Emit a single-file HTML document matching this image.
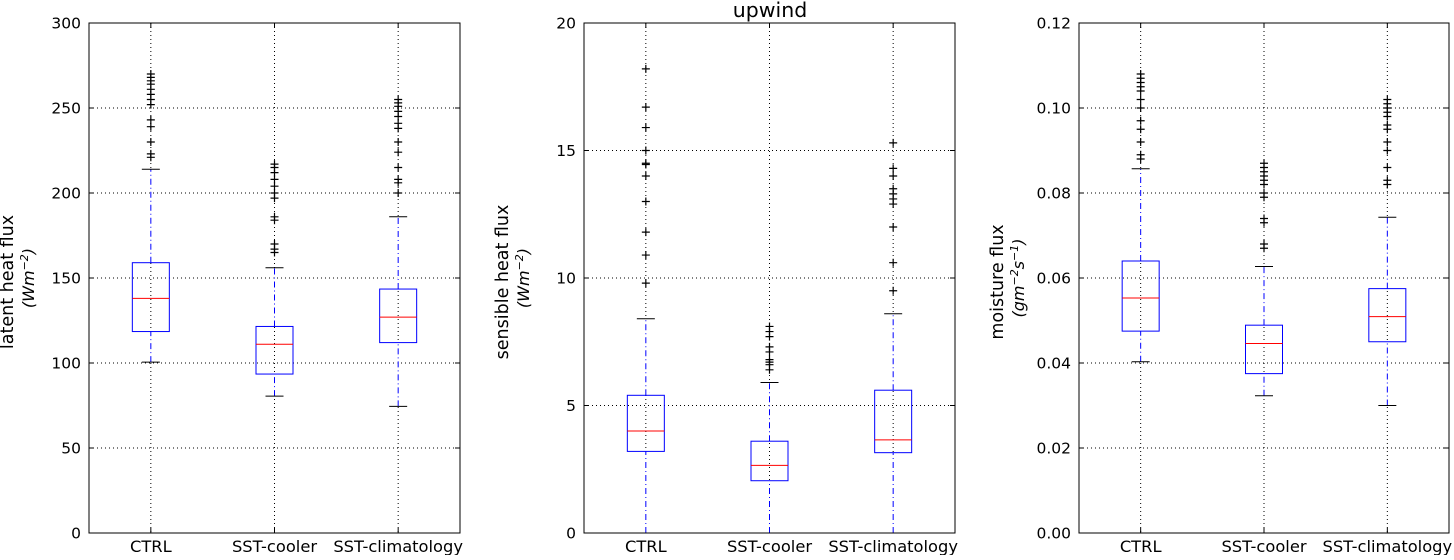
<!DOCTYPE html>
<html><head><meta charset="utf-8"><style>
body{margin:0;background:#fff}
svg text{font-family:"DejaVu Sans","Liberation Sans",sans-serif}
</style></head><body>
<svg id="fig" width="1454" height="555" xmlns="http://www.w3.org/2000/svg">
<rect width="1454" height="555" fill="#fff"/>
<text x="770" y="17" font-size="20.5" text-anchor="middle">upwind</text>
</svg>
<script>
const categories=["CTRL","SST-cooler","SST-climatology"];
const latentStats=[[100.5,118.5,138,159,214],[80.5,93.5,111,121.5,156],[74.5,112,127,143.5,186]];
const latentFliers=[[270,268,266,264,261,258,255,252,243,239,230,223,221],[217,215,212,208,204,200,197,186,184,170,167,165],[255,253,251,248,245,241,238,230,224,215,208,206,200]];
const latentTicks=[0,50,100,150,200,250,300];
const sensibleStats=[[0,3.2,4.0,5.4,8.4],[0,2.05,2.65,3.6,5.9],[0,3.15,3.65,5.6,8.6]];
const sensibleFliers=[[18.2,16.7,15.9,15.0,14.5,14.45,14.0,13.0,11.8,10.9,9.8],[8.1,7.9,7.7,7.3,7.1,6.8,6.7,6.6,6.4],[15.3,14.3,14.0,13.5,13.3,13.1,12.9,12.0,10.6,9.5]];
const sensibleTicks=[0,5,10,15,20];
const moistStats=[[0.0403,0.0475,0.0553,0.064,0.0857],[0.0323,0.0375,0.0446,0.0489,0.0627],[0.03,0.045,0.0509,0.0575,0.0743]];
const moistFliers=[[0.108,0.107,0.106,0.105,0.104,0.102,0.1,0.097,0.095,0.092,0.089,0.088],[0.087,0.086,0.085,0.084,0.083,0.082,0.08,0.079,0.074,0.073,0.068,0.067],[0.102,0.101,0.1,0.099,0.098,0.096,0.095,0.092,0.09,0.086,0.083,0.082]];
const moistTicks=[0,0.02,0.04,0.06,0.08,0.1,0.12];

const NS="http://www.w3.org/2000/svg";
const svg=document.getElementById("fig");
function mk(tag,attrs,parent){const e=document.createElementNS(NS,tag);for(const k in attrs)e.setAttribute(k,attrs[k]);(parent||svg).appendChild(e);return e;}

function panel(x0,x1,ymax,stats,fliers,ticks,fmt,label1,label2,key){
  const y0=23,y1=533;
  const g=mk("g",{});
  
  
  const X=i=>x0+(i+0.5)*(x1-x0)/3;
  const Y=v=>y1-v/ymax*(y1-y0);
  ticks.forEach(t=>{
    const y=Y(t);
    const gl=mk("line",{x1:x0,x2:x1,y1:y,y2:y,stroke:"#000","stroke-width":1,"stroke-dasharray":"1,3"},g);
    
    
    mk("line",{x1:x0,x2:x0+5,y1:y,y2:y,stroke:"#000"},g);
    mk("line",{x1:x1,x2:x1-5,y1:y,y2:y,stroke:"#000"},g);
    const tx=mk("text",{x:x0-8,y:y+5.5,"font-size":15.5,"text-anchor":"end"},g);
    tx.textContent=fmt(t);
    
    
  });
  categories.forEach((c,i)=>{
    const x=X(i);
    mk("line",{x1:x,x2:x,y1:y0,y2:y1,stroke:"#000","stroke-dasharray":"1,3"},g);
    mk("line",{x1:x,x2:x,y1:y1,y2:y1-5,stroke:"#000"},g);
    mk("line",{x1:x,x2:x,y1:y0,y2:y0+5,stroke:"#000"},g);
    const tl=mk("text",{x:x,y:y1+19,"font-size":16.3,"text-anchor":"middle"},g);
    tl.textContent=c;
    
    
  });
  categories.forEach((c,i)=>{
    const x=X(i);
    const s=stats[i];
    const bx=mk("g",{},g);
    
    
    const hw=18.5, cw=9;
    mk("line",{x1:x,x2:x,y1:Y(s[3]),y2:Y(s[4]),stroke:"#fff","stroke-width":2},bx);
    mk("line",{x1:x,x2:x,y1:Y(s[0]),y2:Y(s[1]),stroke:"#fff","stroke-width":2},bx);
    mk("line",{x1:x,x2:x,y1:Y(s[3]),y2:Y(s[4]),stroke:"#00f","stroke-dasharray":"6,3,1,3"},bx);
    mk("line",{x1:x,x2:x,y1:Y(s[0]),y2:Y(s[1]),stroke:"#00f","stroke-dasharray":"6,3,1,3"},bx);
    mk("line",{x1:x-cw,x2:x+cw,y1:Y(s[4]),y2:Y(s[4]),stroke:"#000"},bx);
    mk("line",{x1:x-cw,x2:x+cw,y1:Y(s[0]),y2:Y(s[0]),stroke:"#000"},bx);
    mk("rect",{x:x-hw,y:Y(s[3]),width:2*hw,height:Y(s[1])-Y(s[3]),fill:"none",stroke:"#00f"},bx);
    mk("line",{x1:x-hw,x2:x+hw,y1:Y(s[2]),y2:Y(s[2]),stroke:"#f00"},bx);
    fliers[i].forEach(v=>{
      const y=Y(v);
      const f=mk("path",{d:`M${x-4},${y}H${x+4}M${x},${y-4}V${y+4}`,stroke:"#000","stroke-width":1.2},bx);
      
      
    });
  });
  mk("rect",{x:x0,y:y0,width:x1-x0,height:y1-y0,fill:"none",stroke:"#000"},g);
  const cy=(y0+y1)/2;
  const l1=mk("text",{transform:`translate(${x0-76},${cy+4}) rotate(-90)`,"font-size":17.5,"text-anchor":"middle"},g);
  l1.textContent=label1;
  
  
  const l2=mk("text",{transform:`translate(${x0-55},${cy}) rotate(-90)`,"font-size":16,"text-anchor":"middle","font-style":"italic","font-family":"Liberation Serif,serif"},g);
  l2.innerHTML=label2;
  
  
}
panel(89,460,300,latentStats,latentFliers,latentTicks,t=>String(t),"latent heat flux",'(Wm<tspan dy="-6" font-size="11">−2</tspan><tspan dy="6">)</tspan>',"latent");
panel(584,955,20,sensibleStats,sensibleFliers,sensibleTicks,t=>String(t),"sensible heat flux",'(Wm<tspan dy="-6" font-size="11">−2</tspan><tspan dy="6">)</tspan>',"sensible");
panel(1079,1449,0.12,moistStats,moistFliers,moistTicks,t=>t.toFixed(2),"moisture flux",'(gm<tspan dy="-6" font-size="11">−2</tspan><tspan dy="6">s</tspan><tspan dy="-6" font-size="11">−1</tspan><tspan dy="6">)</tspan>',"moisture");
</script>
</body></html>
